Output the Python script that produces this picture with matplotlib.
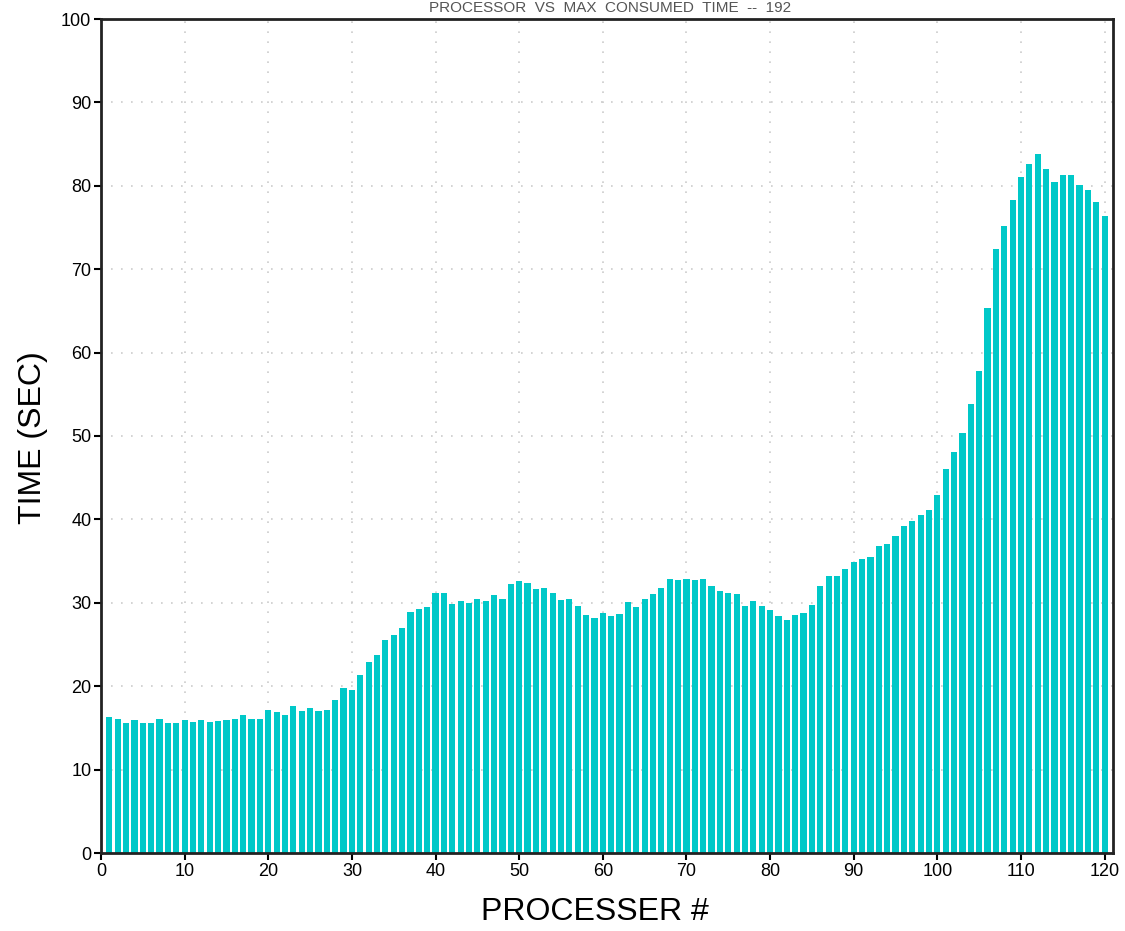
import matplotlib
matplotlib.use('Agg')
import matplotlib.pyplot as plt
from matplotlib.ticker import MultipleLocator

# processor number and max consumed time (sec)
procs = list(range(1, 121))
times = [16.3, 16.1, 15.6, 15.9, 15.6, 15.6, 16.1, 15.6, 15.6, 16.0,
         15.7, 15.9, 15.7, 15.8, 15.9, 16.1, 16.5, 16.1, 16.1, 17.1,
         16.9, 16.5, 17.6, 17.0, 17.4, 17.0, 17.1, 18.3, 19.8, 19.5,
         21.4, 22.9, 23.8, 25.5, 26.1, 27.0, 28.9, 29.2, 29.5, 31.2,
         31.2, 29.9, 30.2, 30.0, 30.4, 30.2, 30.9, 30.5, 32.2, 32.6,
         32.4, 31.6, 31.8, 31.2, 30.3, 30.4, 29.6, 28.5, 28.2, 28.8,
         28.4, 28.7, 30.1, 29.5, 30.5, 31.1, 31.8, 32.9, 32.7, 32.8,
         32.7, 32.9, 32.0, 31.4, 31.2, 31.1, 29.6, 30.2, 29.6, 29.1,
         28.4, 27.9, 28.5, 28.8, 29.7, 32.0, 33.2, 33.2, 34.1, 34.9,
         35.2, 35.5, 36.8, 37.1, 38.0, 39.2, 39.8, 40.5, 41.1, 42.9,
         46.0, 48.1, 50.4, 53.8, 57.8, 65.4, 72.4, 75.2, 78.3, 81.1,
         82.6, 83.8, 82.0, 80.4, 81.3, 81.3, 80.1, 79.5, 78.1, 76.4]

title_txt = 'PROCESSOR  VS  MAX  CONSUMED  TIME  --  192'
xlab = 'PROCESSER #'
ylab = 'TIME (SEC)'

fnt = ['Liberation Sans', 'DejaVu Sans']

fig = plt.figure(figsize=(11.25, 9.31), dpi=100, facecolor='w')
ax = fig.add_axes([101/1125, 1-853/931, (1113-101)/1125, (853-19)/931])

ax.bar(procs, times, width=0.74, color='#00c8c8', edgecolor='none', zorder=2)

ax.set_xlim(0, 121)
ax.set_ylim(0, 100)
ax.xaxis.set_major_locator(MultipleLocator(10))
ax.yaxis.set_major_locator(MultipleLocator(10))
ax.xaxis.set_minor_locator(MultipleLocator(2))
ax.grid(True, which='major', color='#cccccc', linestyle=(0, (1, 5)), linewidth=1.2, zorder=1)
ax.tick_params(which='major', direction='out', length=5, width=1.5, labelsize=13, pad=2)
ax.tick_params(which='minor', direction='in', length=3, width=1.2)
for lb in ax.get_xticklabels() + ax.get_yticklabels():
    lb.set_family(fnt)
for s in ax.spines.values():
    s.set_linewidth(2)
    s.set_color('#222222')

fig.text(595/1125, 1 - 912/931, xlab, ha='center', va='center', fontsize=23, family=fnt)
fig.text(33/1125, 1 - 438/931, ylab, ha='center', va='center', rotation=90, fontsize=23, family=fnt)
# title squeezed into the strip above the frame
fig.text(610/1125, 1 - 1/931, title_txt, ha='center', va='top', fontsize=11,
         family=fnt, color='#555555')

plt.savefig('out.png', dpi=100)
